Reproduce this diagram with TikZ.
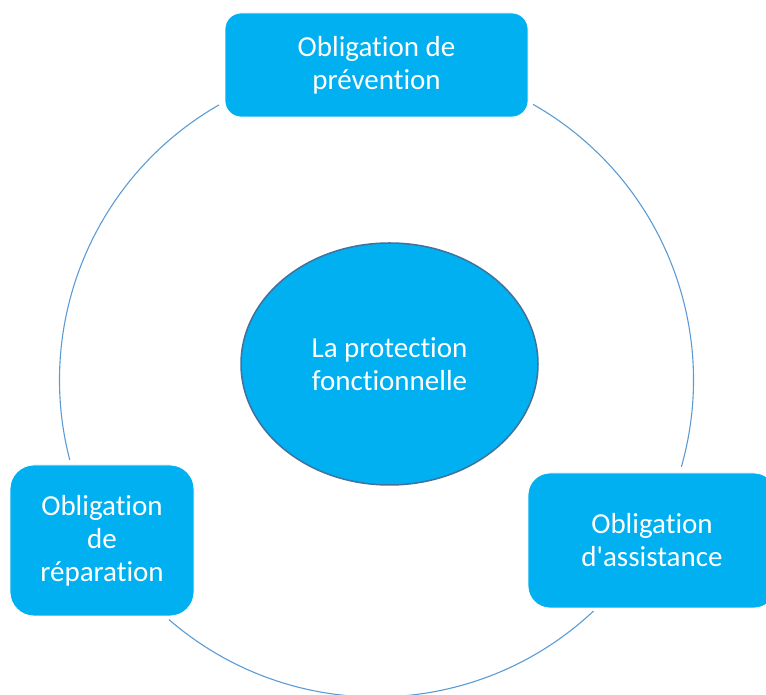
\documentclass[tikz,border=0pt]{standalone}
\usepackage{fontspec}
\setmainfont{Carlito}[RawFeature={-liga;-clig;-dlig}]
\usetikzlibrary{shapes.geometric,calc}
\definecolor{boxfill}{HTML}{00B0F0}
\definecolor{ringline}{HTML}{5B9BD5}
\definecolor{ellline}{HTML}{41719C}
\tikzset{
  obox/.style={fill=boxfill, draw=white, line width=0.8pt, rounded corners=16pt,
    text=white, align=center, inner sep=0pt,
    font=\fontsize{29}{33}\selectfont},
  ring/.style={draw=ringline, line width=1.1pt},
}
\begin{document}
\begin{tikzpicture}[x=1pt,y=1pt]
\useasboundingbox (0,0) rectangle (766,695);
\clip (0,0) rectangle (766,695);
\coordinate (c) at (376.5,315);
\node[obox, minimum width=303pt, minimum height=104pt] (top) at (376.5,630) {Obligation de\\prévention};
\node[obox, rounded corners=24pt, minimum width=184pt, minimum height=151pt] (left) at (102,154.5) {Obligation\\de\\réparation};
\node[obox, rounded corners=22pt, minimum width=248pt, minimum height=135pt] (right) at (652,154.5) {Obligation\\d\textquotesingle assistance};
\node[ellipse, fill=boxfill, draw=ellline, line width=1.5pt, minimum width=297pt, minimum height=242pt,
  text=white, align=center, inner sep=0pt, font=\fontsize{29}{33}\selectfont] (center) at (389.5,331) {La protection\\fonctionnelle};
\draw[ring] ($(c)+(119.8:317)$) arc[start angle=119.8, end angle=194.6, radius=317];
\draw[ring] ($(c)+(229.1:317)$) arc[start angle=229.1, end angle=313.2, radius=317];
\draw[ring] ($(c)+(-15.9:317)$) arc[start angle=-15.9, end angle=60.4, radius=317];
\end{tikzpicture}
\end{document}
